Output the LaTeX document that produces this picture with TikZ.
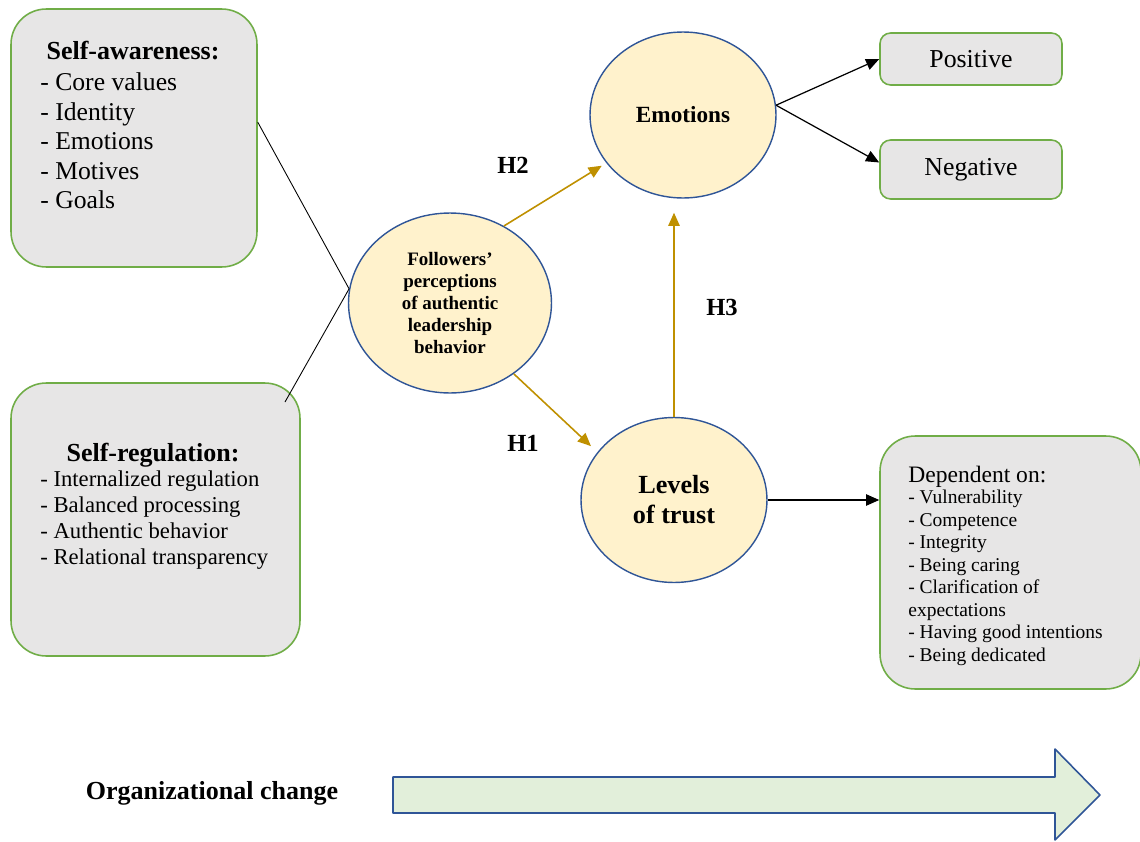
\documentclass[tikz,border=0pt]{standalone}
\usepackage{fontspec}
\setmainfont{Liberation Serif}
\usetikzlibrary{arrows.meta,shapes.geometric}
\definecolor{boxgray}{HTML}{E7E6E6}
\definecolor{boxgreen}{HTML}{70AD47}
\definecolor{ovalfill}{HTML}{FFF2CC}
\definecolor{ovalblue}{HTML}{2F5597}
\definecolor{hgold}{HTML}{BF9000}
\definecolor{changefill}{HTML}{E2EFDA}
\begin{document}
\begin{tikzpicture}[x=0.02cm, y=-0.02cm, line join=round,
	graybox/.style={draw=boxgreen, fill=boxgray, line width=0.9pt, inner sep=0pt},
	oval/.style={ellipse, draw=ovalblue, fill=ovalfill, line width=0.8pt, inner sep=0pt, align=center},
	hyp/.style={draw=hgold, line width=0.9pt, -{Triangle[length=7.5pt,width=6.5pt]}},
	blk/.style={line width=0.7pt, -{Triangle[length=7.5pt,width=6.5pt]}},
	hlabel/.style={font=\fontsize{14}{16}\selectfont\bfseries},
	list/.style={anchor=west, align=left, inner sep=0pt}]
	\useasboundingbox (0,0) rectangle (1140,842);
	% left boxes
	\node[graybox, rounded corners=20pt, minimum width=4.92cm, minimum height=5.16cm] (saware) at (134,138) {};
	\node[font=\fontsize{14.8}{17}\selectfont\bfseries] (saware-title) at (133,51) {Self-awareness:};
	\node[list, font=\fontsize{14.6}{16.8}\selectfont] (saware-list) at (40,141)
		{- Core values\\- Identity\\- Emotions\\- Motives\\- Goals};
	\node[graybox, rounded corners=20pt, minimum width=5.78cm, minimum height=5.46cm] (sreg) at (155.5,519.5) {};
	\node[font=\fontsize{14.8}{17}\selectfont\bfseries] (sreg-title) at (153,455) {Self-regulation:};
	\node[list, font=\fontsize{12.9}{14.8}\selectfont] (sreg-list) at (40,520)
		{- Internalized regulation\\- Balanced processing\\- Authentic behavior\\- Relational transparency};
	\coordinate (sreg-out) at (285,402);
	% ovals
	\node[oval, minimum width=4.06cm, minimum height=3.6cm, font=\fontsize{10.8}{12.5}\selectfont\bfseries] (followers) at (450,303)
		{Followers’\\perceptions\\of authentic\\leadership\\behavior};
	\node[oval, minimum width=3.72cm, minimum height=3.32cm, font=\fontsize{13.2}{15}\selectfont\bfseries] (emotions) at (683,115) {Emotions};
	\node[oval, minimum width=3.72cm, minimum height=3.3cm, font=\fontsize{14.9}{17}\selectfont\bfseries] (levels) at (674,500)
		{Levels\\of trust};
	% right boxes
	\node[graybox, rounded corners=6pt, minimum width=3.64cm, minimum height=1.04cm, font=\fontsize{14.7}{16}\selectfont] (positive) at (971,59) {Positive};
	\node[graybox, rounded corners=6pt, minimum width=3.64cm, minimum height=1.18cm, font=\fontsize{14.7}{16}\selectfont] (negative) at (971,169.5) {Negative};
	\node[graybox, rounded corners=20pt, minimum width=5.22cm, minimum height=5.06cm] (depend) at (1010.5,562.5) {};
	\node[anchor=west, inner sep=0pt, font=\fontsize{13.4}{15}\selectfont] (depend-title) at (908,477) {Dependent on:};
	\node[list, font=\fontsize{11.1}{12.8}\selectfont] (depend-list) at (908,578)
		{- Vulnerability\\- Competence\\- Integrity\\- Being caring\\- Clarification of\\expectations\\- Having good intentions\\- Being dedicated};
	% connectors
	\draw[line width=0.5pt] ([yshift=9pt]saware.east) -- (followers.172);
	\draw[line width=0.5pt] (sreg-out) -- (followers.172);
	\draw[hyp, shorten >=3pt] (followers.55) -- (emotions.212);
	\draw[hyp, shorten >=5pt] (followers.-48) -- (levels.148);
	\draw[hyp, shorten >=8pt] (levels.north) -- (levels.north |- emotions.south);
	\draw[blk] (emotions.6) -- (positive.west);
	\draw[blk] (emotions.6) -- ([yshift=4pt]negative.west);
	\draw[blk] (levels.east) -- (levels.east -| depend.west);
	\node[hlabel] (h2) at (513,165) {H2};
	\node[hlabel] (h1) at (523,443) {H1};
	\node[hlabel] (h3) at (722,307) {H3};
	% organizational change
	\node[font=\fontsize{14.8}{17}\selectfont\bfseries] (change) at (212,793) {Organizational change};
	\draw[draw=ovalblue, fill=changefill, line width=0.9pt]
		(393,777) -- (1055,777) -- (1055,749) -- (1100,795) -- (1055,840) -- (1055,813) -- (393,813) -- cycle;
\end{tikzpicture}
\end{document}
